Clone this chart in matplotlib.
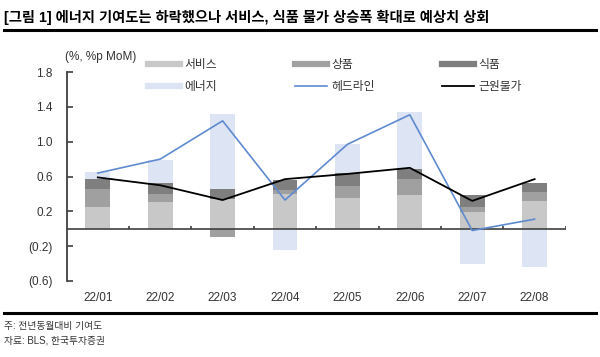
import matplotlib.pyplot as plt
from matplotlib.lines import Line2D
import numpy as np

plt.rcParams['font.family'] = ['Liberation Sans', 'Noto Sans CJK KR', 'DejaVu Sans']

months = ['22/01', '22/02', '22/03', '22/04', '22/05', '22/06', '22/07', '22/08']
services = [0.25, 0.31, 0.34, 0.40, 0.35, 0.39, 0.19, 0.32]
goods = [0.21, 0.09, -0.09, 0.05, 0.14, 0.18, 0.06, 0.10]
food = [0.11, 0.13, 0.12, 0.11, 0.15, 0.12, 0.14, 0.11]
energy = [0.08, 0.26, 0.86, -0.24, 0.33, 0.65, -0.41, -0.44]
headline = [0.64, 0.80, 1.24, 0.33, 0.97, 1.31, -0.02, 0.11]
core = [0.59, 0.50, 0.33, 0.57, 0.63, 0.70, 0.32, 0.57]

c_serv = '#c8c8c8'
c_goods = '#a0a0a0'
c_food = '#7f7f7f'
c_energy = '#dde4f3'
c_head = '#5f8ad0'
c_core = '#000000'
c_axis = '#404040'

fig = plt.figure(figsize=(6, 3.57), dpi=100)
ax = fig.add_axes([0.111, 0.213, 0.832, 0.585])

x = np.arange(len(months))
w = 0.4
pos = np.zeros(len(months))
neg = np.zeros(len(months))
for vals, col in [(services, c_serv), (goods, c_goods), (food, c_food), (energy, c_energy)]:
    v = np.array(vals)
    bottom = np.where(v >= 0, pos, neg)
    ax.bar(x, v, w, bottom=bottom, color=col, zorder=2)
    pos = pos + np.where(v >= 0, v, 0)
    neg = neg + np.where(v < 0, v, 0)

ax.plot(x, headline, color=c_head, lw=1.2, zorder=4)
ax.plot(x, core, color=c_core, lw=1.3, zorder=5)

ax.set_xlim(-0.5, 7.5)
ax.set_ylim(-0.6, 1.8)
ax.axhline(0, color=c_axis, lw=1.2, zorder=3)
ax.vlines(x[1:] - 0.5, 0, 0.035, color=c_axis, lw=1.2, zorder=3)
ax.vlines([7.5], 0, 0.035, color=c_axis, lw=1.2, zorder=3)

for s in ['top', 'right', 'bottom']:
    ax.spines[s].set_visible(False)
ax.spines['left'].set_color(c_axis)
ax.spines['left'].set_linewidth(1.3)

yt = [-0.6, -0.2, 0.2, 0.6, 1.0, 1.4, 1.8]
ax.set_yticks(yt)
ax.set_yticklabels(['(0.6)', '(0.2)', '0.2', '0.6', '1.0', '1.4', '1.8'])
ax.tick_params(axis='y', direction='in', length=4, width=1.2, color=c_axis,
               labelsize=8.5, labelcolor='#333333', pad=10)
ax.set_xticks(x)
ax.set_xticklabels(months)
ax.tick_params(axis='x', length=0, labelsize=8.5, labelcolor='#333333', pad=8)

# legend in three columns
cols = [
    ([Line2D([], [], color=c_serv, lw=4.5), Line2D([], [], color=c_energy, lw=4.5)], ['서비스', '에너지'], 0.247),
    ([Line2D([], [], color=c_goods, lw=4.5), Line2D([], [], color=c_head, lw=1.2)], ['상품', '헤드라인'], 0.492),
    ([Line2D([], [], color=c_food, lw=4.5), Line2D([], [], color=c_core, lw=1.3)], ['식품', '근원물가'], 0.737),
]
for handles, labels, lx in cols:
    lg = fig.legend(handles, labels, loc='upper left', bbox_to_anchor=(lx, 0.835),
                    frameon=False, fontsize=8.5, handlelength=2.7, handletextpad=0.35,
                    labelspacing=0.85, borderpad=0, borderaxespad=0)
    for t in lg.get_texts():
        t.set_color('#333333')

fig.text(0.108, 0.84, '(%, %p MoM)', fontsize=8.5, color='#333333', va='center')

fig.text(0.006, 0.952, '[그림 1] 에너지 기여도는 하락했으나 서비스, 식품 물가 상승폭 확대로 예상치 상회',
         fontsize=10.3, fontweight='bold', va='center')
fig.add_artist(Line2D([0.006, 0.994], [0.915, 0.915], color='black', lw=2.2))
fig.add_artist(Line2D([0.006, 0.994], [0.122, 0.122], color='black', lw=2.2))
fig.text(0.006, 0.088, '주: 전년동월대비 기여도', fontsize=7, color='#333333', va='center')
fig.text(0.006, 0.045, '자료: BLS, 한국투자증권', fontsize=7, color='#333333', va='center')

fig.savefig('out.png', dpi=100)
